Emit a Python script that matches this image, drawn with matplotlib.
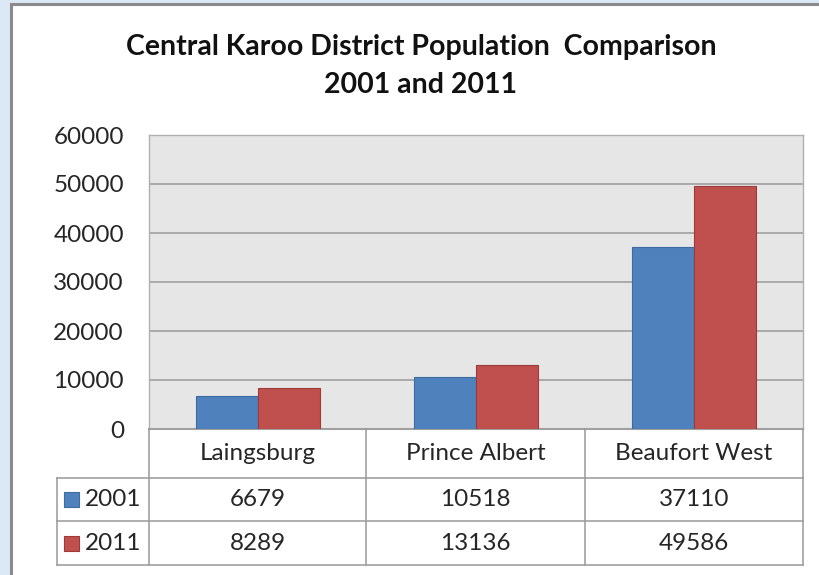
import numpy as np
import matplotlib.pyplot as plt
from matplotlib.patches import Rectangle
from matplotlib.lines import Line2D

plt.rcParams['font.family'] = ['Lato', 'DejaVu Sans']

# --- data ---
towns = ['Laingsburg', 'Prince Albert', 'Beaufort West']
years = ['2001', '2011']
pop_2001 = [6679, 10518, 37110]
pop_2011 = [8289, 13136, 49586]
yticks = [0, 10000, 20000, 30000, 40000, 50000, 60000]

blue = '#4F81BD'
red = '#C0504D'
blue_edge = '#3C6AA3'
red_edge = '#9C3B39'
grid_col = '#A0A0A0'
table_col = '#999999'
txt = '#262626'
fs = 17.5

W, H = 820, 575
fig = plt.figure(figsize=(W / 100, H / 100), dpi=100)
fig.patch.set_facecolor('#DCE8F5')


def fx(px):
    return px / W


def fy(py):
    return 1 - py / H


# white chart area with grey frame (behind everything)
frame = Rectangle((fx(11), -0.1), 1.2, fy(4) + 0.1, transform=fig.transFigure,
                  facecolor='white', edgecolor='#8A8A8A', linewidth=2.2)
frame.set_zorder(-10)
fig.add_artist(frame)

# --- plot area ---
left, right, top, bottom = 149, 803, 135, 429
ax = fig.add_axes([fx(left), fy(bottom), fx(right - left), (bottom - top) / H])
ax.set_facecolor('#E6E6E6')

x = np.arange(len(towns))
bw = 1 / 3.5
ax.bar(x - bw / 2, pop_2001, bw, color=blue, edgecolor=blue_edge, linewidth=0.8, zorder=3)
ax.bar(x + bw / 2, pop_2011, bw, color=red, edgecolor=red_edge, linewidth=0.8, zorder=3)

ax.set_xlim(-0.5, len(towns) - 0.5)
ax.set_ylim(0, 60000)
ax.set_yticks(yticks)
ax.set_yticklabels([str(v) for v in yticks], fontsize=fs, color=txt)
ax.yaxis.grid(True, color=grid_col, linewidth=1.2, zorder=1)
ax.set_xticks([])
ax.tick_params(axis='y', length=0, pad=18)
for s in ['top', 'right', 'left']:
    ax.spines[s].set_color('#B0B0B0')
    ax.spines[s].set_linewidth(1)
ax.spines['bottom'].set_color(grid_col)
ax.spines['bottom'].set_linewidth(1.5)

# --- data table ---
col_edges = [149, 366, 585, 803]
row_edges = [429, 478, 521, 565]
key_left = 57


def hline(y, x0, x1):
    fig.add_artist(Line2D([fx(x0), fx(x1)], [fy(y), fy(y)], color=table_col, linewidth=1.1))


def vline(xp, y0, y1):
    fig.add_artist(Line2D([fx(xp), fx(xp)], [fy(y0), fy(y1)], color=table_col, linewidth=1.1))


for xp in col_edges:
    vline(xp, row_edges[0], row_edges[-1])
vline(key_left, row_edges[1], row_edges[-1])
for yp in row_edges[1:]:
    hline(yp, key_left, col_edges[-1])

for i, town in enumerate(towns):
    cx = (col_edges[i] + col_edges[i + 1]) / 2
    fig.text(fx(cx), fy((row_edges[0] + row_edges[1]) / 2), town, ha='center', va='center',
             fontsize=fs, color=txt)
    fig.text(fx(cx), fy((row_edges[1] + row_edges[2]) / 2), str(pop_2001[i]), ha='center',
             va='center', fontsize=fs, color=txt)
    fig.text(fx(cx), fy((row_edges[2] + row_edges[3]) / 2), str(pop_2011[i]), ha='center',
             va='center', fontsize=fs, color=txt)

for j, (yr, c, ec) in enumerate(zip(years, [blue, red], [blue_edge, red_edge])):
    cy = (row_edges[j + 1] + row_edges[j + 2]) / 2
    fig.patches.append(Rectangle((fx(64), fy(cy + 7.5)), fx(15), 15 / H, transform=fig.transFigure,
                                 facecolor=c, edgecolor=ec, linewidth=0.8))
    fig.text(fx(85), fy(cy), yr, ha='left', va='center', fontsize=fs, color=txt)

# --- title ---
fig.text(fx(421), fy(47), 'Central Karoo District Population  Comparison', ha='center',
         va='center', fontsize=20.5, fontweight='bold', color='#111111')
fig.text(fx(421), fy(85), '2001 and 2011', ha='center', va='center', fontsize=20.5,
         fontweight='bold', color='#111111')

fig.savefig('out.png', dpi=100, facecolor=fig.get_facecolor())
